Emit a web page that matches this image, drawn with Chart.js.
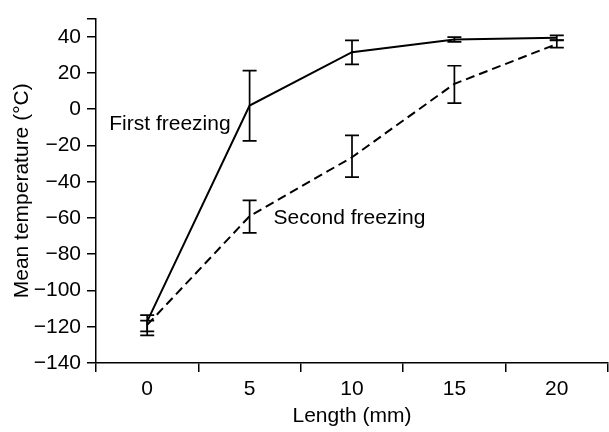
<!DOCTYPE html>
<html>
<head>
<meta charset="utf-8">
<script src="https://cdn.jsdelivr.net/npm/chart.js@4.4.0/dist/chart.umd.min.js"></script>
<style>
  body { margin: 0; background: #fff; }
  canvas { display: block; }
</style>
</head>
<body>
<canvas id="chart" width="609" height="432"></canvas>
<script>
// data
const lengths = ['0', '5', '10', '15', '20'];
const yTicks = [-140, -120, -100, -80, -60, -40, -20, 0, 20, 40, 50];

const firstMean = [-117, 2, 31.5, 38.5, 39.5];
const firstHigh = [-113.6, 21.3, 38, 39.8, 40.8];
const firstLow = [-122.5, -17.5, 24.7, 37.2, 38.2];

const secondMean = [-119, -59, -26.5, 14, 36];
const secondHigh = [-116.6, -50.3, -14.4, 24, 38];
const secondLow = [-124.8, -68.2, -37.5, 3.4, 34];

const seriesLabels = ['First freezing', 'Second freezing'];

const FONT = "'Liberation Sans', Arial, Helvetica, sans-serif";
const SIZE = 21;

// error bars + in-plot labels
const errorBars = {
  id: 'errorBars',
  afterDatasetsDraw(chart) {
    const ctx = chart.ctx;
    const xs = chart.scales.x, ys = chart.scales.y;
    const sets = [[firstLow, firstHigh], [secondLow, secondHigh]];
    ctx.save();
    ctx.strokeStyle = '#000';
    ctx.lineWidth = 1.7;
    sets.forEach(([lo, hi]) => {
      lo.forEach((v, i) => {
        const x = xs.getPixelForValue(i);
        const y1 = ys.getPixelForValue(hi[i]);
        const y2 = ys.getPixelForValue(v);
        ctx.beginPath();
        ctx.moveTo(x, y1); ctx.lineTo(x, y2);
        ctx.moveTo(x - 7, y1); ctx.lineTo(x + 7, y1);
        ctx.moveTo(x - 7, y2); ctx.lineTo(x + 7, y2);
        ctx.stroke();
      });
    });

    ctx.fillStyle = '#000';
    ctx.font = SIZE + 'px ' + FONT;
    ctx.textBaseline = 'middle';
    const x5 = xs.getPixelForValue(1);
    ctx.textAlign = 'right';
    ctx.fillText(seriesLabels[0], x5 - 19, ys.getPixelForValue(-8));
    ctx.textAlign = 'left';
    ctx.fillText(seriesLabels[1], x5 + 24, ys.getPixelForValue(-60));
    ctx.restore();
  }
};

new Chart(document.getElementById('chart'), {
  type: 'line',
  data: {
    labels: lengths,
    datasets: [{
      label: seriesLabels[0],
      data: firstMean,
      borderColor: '#000',
      borderWidth: 2,
      pointRadius: 0,
      tension: 0
    }, {
      label: seriesLabels[1],
      data: secondMean,
      borderColor: '#000',
      borderWidth: 2,
      borderDash: [9, 5],
      pointRadius: 0,
      tension: 0
    }]
  },
  options: {
    responsive: false,
    animation: false,
    devicePixelRatio: 1,
    layout: { padding: { top: 10, right: 1, left: 0, bottom: 0 } },
    plugins: { legend: { display: false }, tooltip: { enabled: false } },
    scales: {
      x: {
        type: 'category',
        offset: true,
        grid: { offset: true, drawOnChartArea: false, drawTicks: true, tickLength: 9, color: '#000', lineWidth: 1.5 },
        border: { display: true, color: '#000', width: 1.5 },
        ticks: { color: '#000', font: { family: FONT, size: SIZE }, padding: 5, maxRotation: 0 },
        title: { display: true, text: 'Length (mm)', color: '#000', font: { family: FONT, size: SIZE }, padding: { top: 0, bottom: 3 } },
        afterFit: s => { s.height = 69; }
      },
      y: {
        min: -140,
        max: 50,
        afterBuildTicks: s => { s.ticks = yTicks.map(v => ({ value: v })); },
        grid: { drawOnChartArea: false, drawTicks: true, tickLength: 9, color: '#000', lineWidth: 1.5 },
        border: { display: true, color: '#000', width: 1.5 },
        ticks: {
          color: '#000',
          font: { family: FONT, size: SIZE },
          padding: 6,
          callback: v => v === 50 ? '' : String(v).replace('-', '\u2212')
        },
        title: { display: true, text: 'Mean temperature (\u00b0C)', color: '#000', font: { family: FONT, size: SIZE }, padding: { top: 10, bottom: 0 } },
        afterFit: s => { s.width = 96; }
      }
    }
  },
  plugins: [errorBars]
});
</script>
</body>
</html>
